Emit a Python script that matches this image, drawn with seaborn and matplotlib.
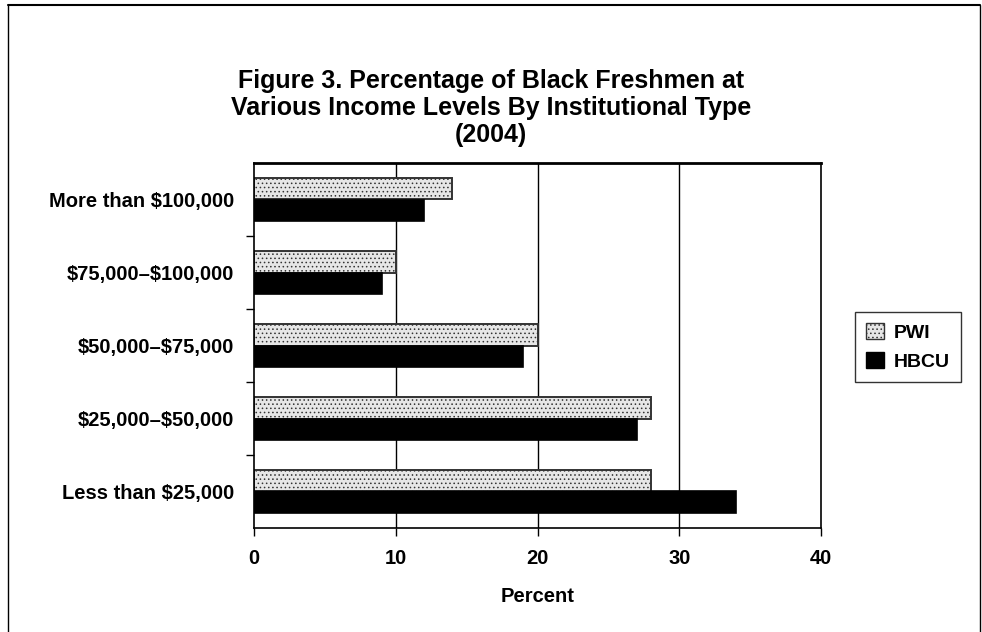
import pandas as pd
import numpy as np
import matplotlib
matplotlib.use('Agg')
import matplotlib.pyplot as plt
import seaborn as sns
from matplotlib.patches import Patch

# データ
income_levels = ['More than $100,000', '$75,000–$100,000', '$50,000–$75,000',
                 '$25,000–$50,000', 'Less than $25,000']
pwi_values = [14, 10, 20, 28, 28]
hbcu_values = [12, 9, 19, 27, 34]
groups = ['PWI', 'HBCU']

df = pd.DataFrame({
    'income': income_levels * 2,
    'percent': pwi_values + hbcu_values,
    'type': ['PWI'] * len(income_levels) + ['HBCU'] * len(income_levels),
})

sns.set_style('white')
plt.rcParams['font.family'] = ['Liberation Sans', 'DejaVu Sans']
plt.rcParams['text.parse_math'] = False
plt.rcParams['text.color'] = 'black'
plt.rcParams['xtick.color'] = 'black'
plt.rcParams['ytick.color'] = 'black'
plt.rcParams['axes.labelcolor'] = 'black'
plt.rcParams['hatch.linewidth'] = 0.6

fig = plt.figure(figsize=(9.82, 6.32), dpi=100)
ax = fig.add_axes([254 / 982, 1 - 528 / 632, (821 - 254) / 982, (528 - 163) / 632])

sns.barplot(data=df, y='income', x='percent', hue='type', order=income_levels,
            hue_order=groups, orient='h', width=0.58, ax=ax,
            palette={'PWI': '#e6e6e6', 'HBCU': 'black'}, legend=False,
            edgecolor='black', linewidth=1.2, saturation=1)

# PWIに点描ハッチ
n = len(income_levels)
for p in ax.patches[:n]:
    p.set_hatch('....')
    p.set_edgecolor('#333333')
    p.set_linewidth(1.4)

ax.set_xlim(0, 40)
ax.set_ylim(n - 0.5, -0.5)
ax.set_xticks([0, 10, 20, 30, 40])
ax.set_xticklabels(['0', '10', '20', '30', '40'], fontsize=14.5, fontweight='bold')
ax.set_yticks(range(n))
ax.set_yticklabels(income_levels, fontsize=14.5, fontweight='bold')
ax.tick_params(axis='y', length=0, pad=14)
ax.tick_params(axis='x', length=6, width=1, direction='out', pad=9, bottom=True)
ax.set_yticks(np.arange(0.5, n - 1, 1), minor=True)
ax.tick_params(axis='y', which='minor', length=6, width=1, direction='out', left=True)
for x in [10, 20, 30]:
    ax.axvline(x, color='black', linewidth=1, zorder=0)
ax.set_axisbelow(True)
for s in ax.spines.values():
    s.set_visible(True)
    s.set_color('black')
    s.set_linewidth(1.2)
ax.spines['top'].set_linewidth(2)
ax.set_xlabel('Percent', fontsize=14.5, fontweight='bold', labelpad=14)
ax.set_ylabel('')

fig.text(0.5, 1 - 108 / 632, 'Figure 3. Percentage of Black Freshmen at\n'
         'Various Income Levels By Institutional Type\n(2004)',
         ha='center', va='center', fontsize=18, fontweight='bold', linespacing=1.15)

handles = [Patch(facecolor='#e6e6e6', edgecolor='#333333', hatch='....', label='PWI'),
           Patch(facecolor='black', edgecolor='black', label='HBCU')]
fig.legend(handles=handles, loc='center', bbox_to_anchor=(908 / 982, 1 - 347 / 632),
           frameon=True, fancybox=False, edgecolor='black',
           prop={'weight': 'bold', 'size': 14}, handlelength=0.9, handleheight=0.9,
           handletextpad=0.5, borderpad=0.6, labelspacing=0.5)

# 外枠
fig.add_artist(plt.Line2D([8 / 982, 8 / 982], [0, 1 - 5 / 632], transform=fig.transFigure,
                          color='black', linewidth=1))
fig.add_artist(plt.Line2D([8 / 982, 980 / 982], [1 - 5 / 632, 1 - 5 / 632],
                          transform=fig.transFigure, color='black', linewidth=1.5))
fig.add_artist(plt.Line2D([980 / 982, 980 / 982], [0, 1 - 5 / 632], transform=fig.transFigure,
                          color='black', linewidth=1))

fig.savefig('out.png', dpi=100)
